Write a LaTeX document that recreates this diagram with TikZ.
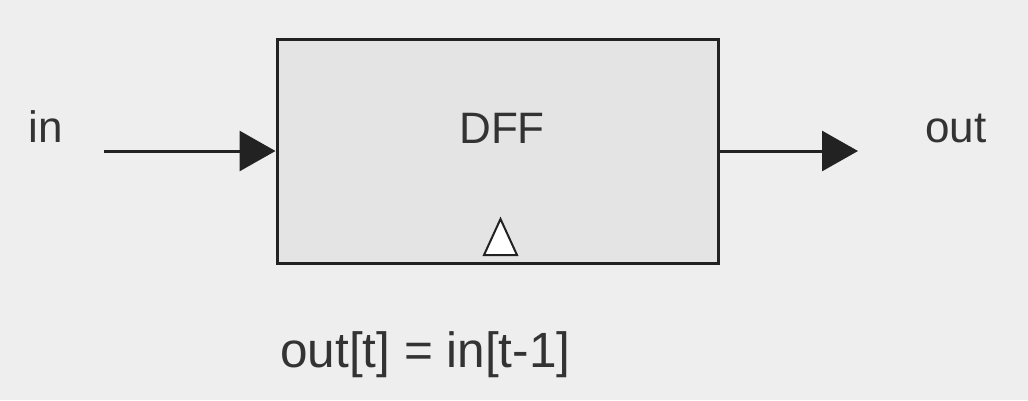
\documentclass[tikz,border=0pt]{standalone}
\usepackage{fontspec}
\setmainfont{Liberation Sans}
\usetikzlibrary{arrows.meta}
\definecolor{bgc}{HTML}{EEEEEE}
\definecolor{boxc}{HTML}{E4E4E4}
\definecolor{inkc}{HTML}{222222}
\definecolor{txtc}{HTML}{333333}
\tikzset{
  lbl/.style={anchor=base, text=txtc, inner sep=0pt, font=\fontsize{44}{50}\selectfont},
  eqlbl/.style={anchor=base west, text=txtc, inner sep=0pt, font=\fontsize{49.5}{56}\selectfont},
  wire/.style={line width=3pt, draw=inkc, -{Triangle[length=36pt,width=40pt]}},
  dffbox/.style={draw=inkc, line width=3pt, fill=boxc, minimum width=441pt, minimum height=224pt, inner sep=0pt},
}
\begin{document}
\begin{tikzpicture}[x=1pt,y=-1pt]
\fill[bgc] (0,0) rectangle (1028,400);
\useasboundingbox (0,0) rectangle (1028,400);
\node[dffbox] (dff) at (497.5,151) {};
\node[lbl] (dfflbl) at (502,143) {DFF};
\draw[draw=inkc, line width=2pt, fill=white, line join=miter] (484,255) -- (517,255) -- (500.5,219) -- cycle;
\node[lbl] (inlbl) at (46,142) {in};
\node[lbl] (outlbl) at (956,142) {out};
\coordinate (inS) at (104,151);
\coordinate (outE) at (858,151);
\draw[wire] (inS) -- (dff.west);
\draw[wire] (dff.east) -- (outE);
\node[eqlbl] (eq) at (280,367) {out[t] = in[t-1]};
\end{tikzpicture}
\end{document}
